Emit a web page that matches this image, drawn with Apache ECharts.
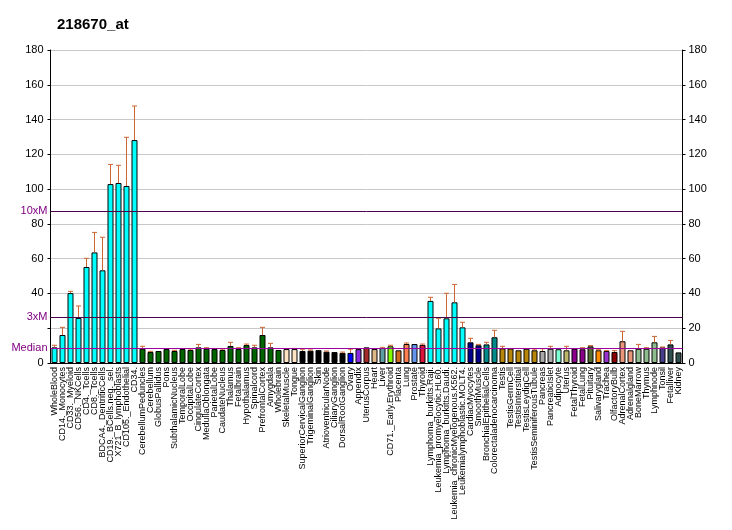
<!DOCTYPE html>
<html><head><meta charset="utf-8">
<script src="https://cdn.jsdelivr.net/npm/echarts@6/dist/echarts.min.js"></script>
<style>html,body{margin:0;padding:0;background:#fff}#c{width:732px;height:530px}</style>
</head><body><div id="c"></div>
<script>
const categories = ["WholeBlood","CD14._Monocytes","CD33._Myeloid","CD56._NKCells","CD4._Tcells","CD8._Tcells","BDCA4._DentriticCells","CD19._BCells.neg._sel.","X721_B_lymphoblasts","CD105._Endothelial","CD34.",
"CerebellumPeduncles","Cerebellum","GlobusPallidus","Pons","SubthalamicNucleus","TemporalLobe","OccipitalLobe","CingulateCortex","MedullaOblongata","ParietalLobe","CaudateNucleus","Thalamus","Fetalbrain","Hypothalamus","Spinalcord","PrefrontalCortex","Amygdala","Wholebrain",
"SkeletalMuscle","Tongue","SuperiorCervicalGanglion","TrigeminalGanglion","Skin","AtrioventricularNode","CiliaryGanglion","DorsalRootGanglion","Ovary","Appendix","UterusCorpus","Heart","Liver","CD71._Early.Erythroid","Placenta","Lung","Prostate","Thyroid",
"Lymphoma_burkitts.Raji.","Leukemia_promyelocytic.HL60.","Lymphoma_burkitts.Daudi.","Leukemia_chronicMyelogenous.K562.","Leukemialymphoblastic.MOLT4.",
"CardiacMyocytes","SmoothMuscle","BronchialEpithelialCells","Colorectaladenocarcinoma","Testis","TestisGermCell","TestisInterstitial","TestisLeydigCell","TestisSeminiferousTubule","Pancreas","PancreaticIslet","Adipocyte","Uterus","FetalThyroid","FetalLung","Pituitary","Salivarygland","Trachea","OlfactoryBulb","AdrenalCortex","Adrenalgland","BoneMarrow","Thymus","Lymphnode","Tonsil","Fetalliver","Kidney"];

const values = [9.0,16.1,40.2,25.9,55.2,63.6,53.3,102.9,103.5,101.8,128.2,
8.2,6.3,6.9,8.0,6.9,8.0,7.5,9.0,8.2,8.0,7.5,9.8,8.0,10.3,9.0,16.1,9.0,7.5,
8.0,8.0,6.9,7.1,7.4,6.5,6.3,5.8,5.8,8.0,9.0,8.0,8.6,9.6,7.3,10.9,10.9,10.4,
35.7,19.9,25.7,34.9,20.5,
11.9,10.2,10.7,14.8,8.4,8.3,7.3,8.2,7.3,6.9,8.2,7.9,7.3,8.2,7.9,9.6,7.3,6.9,6.3,12.5,7.3,8.2,8.2,11.9,9.0,10.7,6.1];

const errTop = [10.2,20.5,41.2,32.8,60.2,75.1,72.3,114.2,113.7,129.8,147.8,
9.6,6.7,null,null,7.3,null,8.0,10.7,8.8,null,8.0,11.9,8.8,10.9,10.2,20.5,11.3,null,
null,8.4,7.9,7.5,null,6.9,null,6.3,7.9,null,null,null,9.0,10.2,null,11.5,null,10.9,
37.8,25.7,40.1,45.2,23.4,
14.2,10.7,11.9,18.8,9.6,null,null,null,8.0,8.2,9.6,null,9.6,null,8.8,10.0,7.9,7.1,7.1,18.2,null,10.7,8.8,15.3,9.2,13.0,null];

const colors = ["#00FFFF","#00FFFF","#00FFFF","#00FFFF","#00FFFF","#00FFFF","#00FFFF","#00FFFF","#00FFFF","#00FFFF","#00FFFF",
"#006400","#006400","#006400","#006400","#006400","#006400","#006400","#006400","#006400","#006400","#006400","#006400","#006400","#006400","#006400","#006400","#006400","#006400",
"#FFE4C4","#FFE4C4","#000000","#000000","#000000","#000000","#000000","#000000","#0000FF","#8A2BE2","#A52A2A","#DEB887","#5F9EA0","#7FFF00","#D2691E","#FF7F50","#6495ED","#DC143C",
"#00FFFF","#00FFFF","#00FFFF","#00FFFF","#00FFFF",
"#00008B","#00008B","#008B8B","#008B8B","#B8860B","#B8860B","#B8860B","#B8860B","#B8860B","#A9A9A9","#A9A9A9","#7FFFD4","#BDB76B","#8B008B","#8B008B","#556B2F","#FF8C00","#9932CC","#8B0000","#E9967A","#E9967A","#8FBC8F","#8FBC8F","#8FBC8F","#483D8B","#2F4F4F","#2F4F4F"];

const yTicks = [0,20,40,60,80,100,120,140,160,180];
const median = 8.74;
const refLines = [{name:"10xM", value: median*10},{name:"3xM", value: median*3},{name:"Median", value: median}];

const chart = echarts.init(document.getElementById('c'));
const yAxisBase = {
  type:'value', min:yTicks[0], max:yTicks[yTicks.length-1], interval:20,
  axisLine:{show:true,lineStyle:{color:'#000',width:1}},
  axisTick:{show:true,length:3,lineStyle:{color:'#000'}},
  axisLabel:{color:'#000',fontSize:11,fontFamily:'Liberation Sans, Arial',margin:6},
};
chart.setOption({
  animation:false,
  title:{text:'218670_at',left:52,top:12,textStyle:{fontSize:15,fontWeight:'bold',color:'#000',fontFamily:'Liberation Sans, Arial'}},
  grid:{left:50.5,right:49.5,top:50,bottom:167,containLabel:false,outerBoundsMode:'none'},
  xAxis:{type:'category',data:categories,
    axisLine:{lineStyle:{color:'#000'}},
    axisTick:{alignWithLabel:true,length:4,lineStyle:{color:'#000'}},
    axisLabel:{interval:0,rotate:90,fontSize:9,color:'#000',fontFamily:'Liberation Sans, Arial',margin:4}},
  yAxis:[
    Object.assign({},yAxisBase,{position:'left',splitLine:{show:true,lineStyle:{color:'#C8C8C8',width:1}},
      axisLabel:Object.assign({},yAxisBase.axisLabel,{margin:7,formatter:v=> v===20?'':String(v)})}),
    Object.assign({},yAxisBase,{position:'right',splitLine:{show:false}})
  ],
  series:[
    {type:'bar',data:values.map((v,i)=>({value:v,itemStyle:{color:colors[i]}})),
      barWidth:6,itemStyle:{borderColor:'#000',borderWidth:1},
      markLine:{silent:true,symbol:'none',animation:false,
        data:refLines.map((r,i)=>({name:r.name,yAxis:r.value,
          lineStyle:{color: i<2?'#4A004A':'#A000A0',width:1,type:'solid'},
          label:{show:true,position:'start',formatter:r.name,color:'#800080',fontSize:11,fontFamily:'Liberation Sans, Arial',distance:3}}))
      }, z:3},
    {type:'custom',z:4,data:values.map((v,i)=>[i,v,errTop[i]]).filter(d=>d[2]!=null),
      renderItem:(params,api)=>{
        const b=api.coord([api.value(0),api.value(1)]);
        const t=api.coord([api.value(0),api.value(2)]);
        const st={stroke:'#CC6633',lineWidth:1};
        return {type:'group',children:[
          {type:'line',shape:{x1:b[0],y1:b[1],x2:t[0],y2:t[1]},style:st},
          {type:'line',shape:{x1:t[0]-2.5,y1:t[1],x2:t[0]+2.5,y2:t[1]},style:st}
        ]};
      }}
  ]
});
</script></body></html>
